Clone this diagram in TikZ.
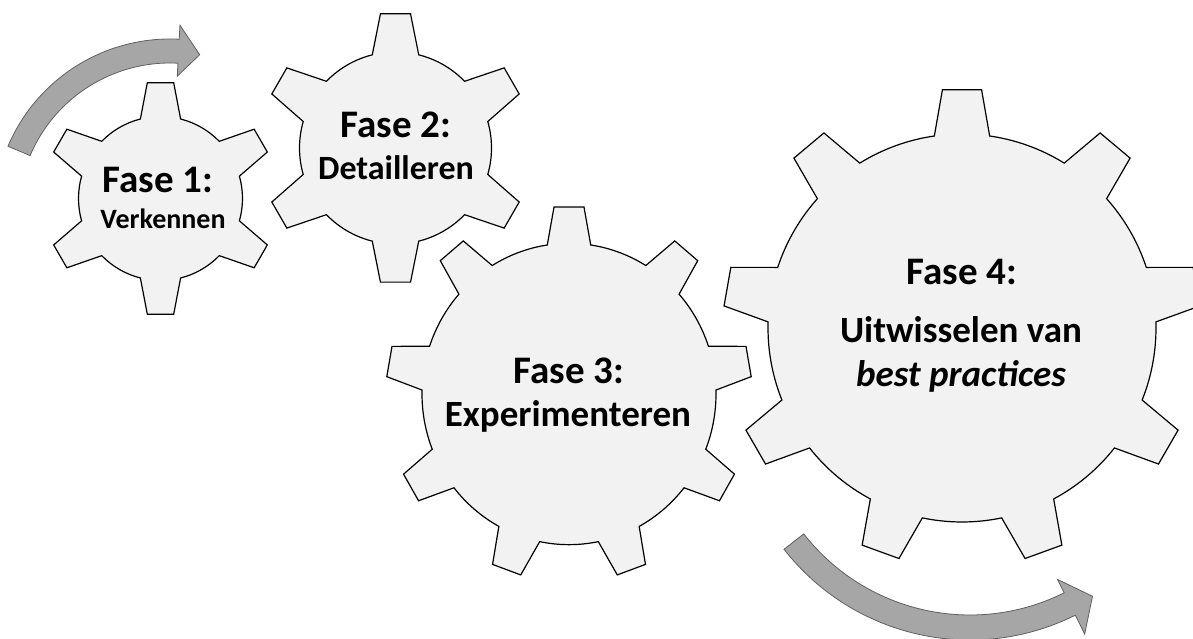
\documentclass[tikz,border=0pt]{standalone}
\usepackage{fontspec}
\setmainfont{Carlito}
\usetikzlibrary{positioning}

\definecolor{cogfill}{HTML}{F2F2F2}
\definecolor{arrowfill}{HTML}{A6A6A6}
\definecolor{arrowline}{HTML}{606060}

% outline of a cog: teeth, tip radius, root radius, tip half angle, root half angle
\newcommand\cogpath[5]{%
  (90-#5:#3)
  \foreach \k [evaluate=\k as \a using 90+(\k-1)*360/#1] in {1,...,#1} {
    -- (\a-#4:#2) -- (\a+#4:#2) -- (\a+#5:#3)
    arc[start angle=\a+#5, end angle=\a+360/#1-#5, radius=#3pt]
  } -- cycle}

\begin{document}
\begin{tikzpicture}[x=1pt, y=1pt,
  cog/.style={draw=black, fill=cogfill, line width=1.2pt, line join=miter},
  curvearrow/.style={draw=arrowline, fill=arrowfill, line width=0.8pt, line join=miter},
  title/.style={anchor=base, inner sep=0pt, font=\bfseries\fontsize{39}{44}\selectfont},
  sub/.style={anchor=base, inner sep=0pt, font=\bfseries\fontsize{#1}{#1}\selectfont}]

\useasboundingbox (0,0) rectangle (1193,639);
\clip (0,0) rectangle (1193,639);

\coordinate (cog1) at (160.5,440.5);
\coordinate (cog2) at (395.5,491);
\coordinate (cog3) at (569,245);
\coordinate (cog4) at (962,311);

\draw[cog, shift={(cog1)}] \cogpath{6}{116.5}{82}{6.5}{14.2};
\draw[cog, shift={(cog2)}] \cogpath{6}{135}{96}{6.4}{14};
\draw[cog, shift={(cog3)}, yscale=1.025] \cogpath{9}{183}{147}{4.7}{8.5};
\draw[cog, shift={(cog4)}] \cogpath{9}{239}{194}{4.7}{8.2};

\draw[curvearrow, shift={(170,424)}] (157:176) arc[start angle=157, end angle=87, radius=176pt]
  -- (87:190) -- (79.5:163) -- (87:139) -- (87:152)
  arc[start angle=87, end angle=157, radius=152pt] -- cycle;
\draw[curvearrow, shift={(970,235)}] (-142:236) arc[start angle=-142, end angle=-63.5, radius=236pt]
  -- (-63.5:257) -- (-57.5:228) -- (-63.5:196) -- (-63.5:211)
  arc[start angle=-63.5, end angle=-142, radius=211pt] -- cycle;

\node[title] (fase1) at (158,446) {Fase 1:};
\node[sub=28] (verkennen) at (163,410) {Verkennen};
\node[title] (fase2) at (396,501) {Fase 2:};
\node[sub=34] (detailleren) at (396,459) {Detailleren};
\node[title] (fase3) at (569,255) {Fase 3:};
\node[sub=37] (experimenteren) at (568,212) {Experimenteren};
\node[title] (fase4) at (962,354) {Fase 4:};
\node[sub=37] (uitwisselen) at (961,296) {Uitwisselen van};
\node[sub=37] (practices) at (961,252) {\itshape best practices};

\end{tikzpicture}
\end{document}
